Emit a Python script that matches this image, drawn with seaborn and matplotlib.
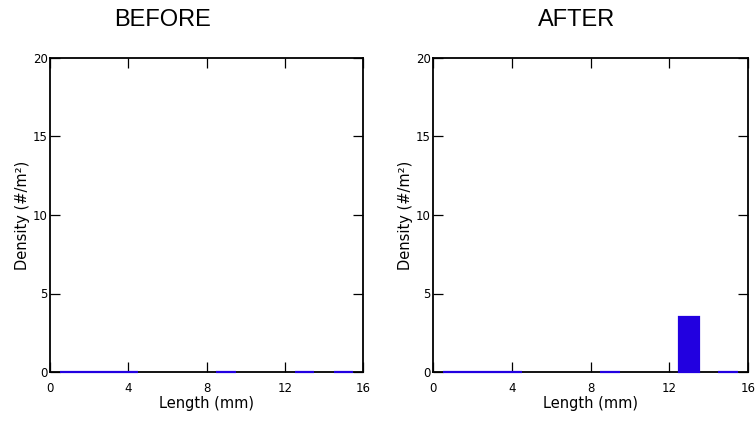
import matplotlib
matplotlib.use("Agg")
import matplotlib.pyplot as plt
import seaborn as sns

# ── Data ──────────────────────────────────────────────
lengths = [1, 2, 3, 4, 9, 13, 15]          # bin centres (mm)
before = [0, 0, 0, 0, 0, 0, 0]             # density (#/m2)
after = [0, 0, 0, 0, 0, 3.5, 0]
titles = ["BEFORE", "AFTER"]
xticks = [0, 4, 8, 12, 16]
yticks = [0, 5, 10, 15, 20]

BLUE = "#2200e0"

sns.set_style("ticks")
plt.rcParams["font.family"] = ["DejaVu Sans"]
plt.rcParams.update({"text.color": "black", "axes.labelcolor": "black",
                     "xtick.color": "black", "ytick.color": "black"})

fig = plt.figure(figsize=(7.55, 4.21), dpi=100)
axes = [fig.add_axes([50 / 755, 1 - 372 / 421, 313 / 755, 314 / 421]),
        fig.add_axes([433 / 755, 1 - 372 / 421, 315 / 755, 314 / 421])]
title_x = [163 / 755, 577 / 755]

for ax, vals, title, tx in zip(axes, [before, after], titles, title_x):
    # zero-height bars still show as a blue edge on the baseline
    sns.barplot(x=lengths, y=vals, native_scale=True, width=1, color=BLUE,
                saturation=1, errorbar=None, edgecolor=BLUE, linewidth=1.6,
                zorder=3, clip_on=False, ax=ax)
    ax.set_xlim(0, 16)
    ax.set_ylim(0, 20)
    ax.set_xticks(xticks)
    ax.set_yticks(yticks)
    ax.set_xlabel("Length (mm)", fontsize=10.5, labelpad=1)
    ax.set_ylabel("Density (#/m²)", fontsize=10.5, labelpad=2)
    ax.tick_params(axis="x", direction="in", length=7, width=0.9,
                   top=True, labelsize=8.5, pad=7)
    ax.tick_params(axis="y", direction="in", length=7, width=0.9,
                   right=True, labelsize=8.5, pad=1.5)
    for sp in ax.spines.values():
        sp.set_visible(True)
        sp.set_linewidth(1.3)
        sp.set_color("black")
    ax.spines["bottom"].set_zorder(2)
    fig.text(tx, 1 - 20 / 421, title, ha="center", va="center",
             fontsize=17, family=["Liberation Sans", "DejaVu Sans"])

fig.savefig("out.png", dpi=100)
